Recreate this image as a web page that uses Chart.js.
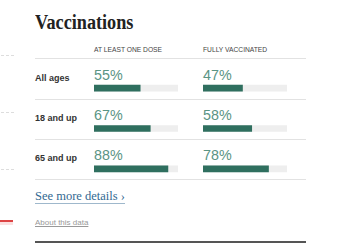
<!DOCTYPE html>
<html><head><meta charset="utf-8">
<script src="https://cdn.jsdelivr.net/npm/chart.js@4"></script>
<style>
html,body{margin:0;padding:0;background:#fff;width:352px;height:250px;overflow:hidden;position:relative}
.a{position:absolute;white-space:nowrap}
#title{left:35px;top:11px;font:bold 20px "Liberation Serif",serif;color:#222;transform:scaleX(0.91);transform-origin:left top}
.hdr{top:46px;font:6.7px "Liberation Sans",Arial,sans-serif;color:#444}
.rule{position:absolute;left:35px;width:271px;height:1px;background:#e2e2e2}
.lab{left:35px;font:bold 9px "Liberation Sans",Arial,sans-serif;color:#333}
.pct{font:14.3px "Liberation Sans",Arial,sans-serif;color:#5a9484}
#more{left:35px;top:190px;font:12.5px "Liberation Serif",serif;color:#326891;border-bottom:1px solid #9fb8cc;line-height:13px}
#about{left:35px;top:218px;font:8px "Liberation Sans",Arial,sans-serif;color:#999;text-decoration:underline}
#bottom{position:absolute;left:35px;top:241px;width:271px;height:2px;background:#555}
.dash{position:absolute;left:1px;width:13px;height:0;border-top:1px dashed #ddd}
#red{position:absolute;left:0;top:220px;width:13px;height:2px;background:#d44}
#redf{position:absolute;left:0;top:222px;width:13px;height:3px;background:#fbe0e0}
canvas{position:absolute}
</style></head><body>
<div id="title" class="a">Vaccinations</div>
<div class="rule" style="top:58px"></div>
<div class="rule" style="top:99px"></div>
<div class="rule" style="top:139px"></div>
<div class="rule" style="top:179px"></div>
<div class="dash" style="top:55px"></div>
<div class="dash" style="top:112px"></div>
<div class="dash" style="top:169px"></div>
<div id="red"></div><div id="redf"></div>
<div id="labels"></div>
<div id="more" class="a">See more details ›</div>
<div id="about" class="a">About this data</div>
<div id="bottom"></div>
<div style="position:absolute;left:94px;top:68px;width:84px;height:121px"><canvas id="c1"></canvas></div>
<div style="position:absolute;left:203px;top:68px;width:84px;height:121px"><canvas id="c2"></canvas></div>
<script>
const categories = ["All ages", "18 and up", "65 and up"];
const atLeastOneDose = [55, 67, 88];
const fullyVaccinated = [47, 58, 78];
const columnTitles = ["AT LEAST ONE DOSE", "FULLY VACCINATED"];
const trackMax = [100, 100, 100];

const rowTops = [72, 112, 152];
const colLefts = [94, 203];
const labelsEl = document.getElementById('labels');
columnTitles.forEach((t, j) => {
  const h = document.createElement('div');
  h.className = 'a hdr'; h.style.left = colLefts[j] + 'px'; h.textContent = t;
  labelsEl.appendChild(h);
});
categories.forEach((c, i) => {
  const l = document.createElement('div');
  l.className = 'a lab'; l.style.top = (rowTops[i] + 1) + 'px'; l.textContent = c;
  labelsEl.appendChild(l);
  [atLeastOneDose, fullyVaccinated].forEach((arr, j) => {
    const p = document.createElement('div');
    p.className = 'a pct'; p.style.top = (rowTops[i] - 5) + 'px'; p.style.left = colLefts[j] + 'px';
    p.textContent = arr[i] + '%';
    labelsEl.appendChild(p);
  });
});

function makeChart(id, values) {
  new Chart(document.getElementById(id), {
    type: 'bar',
    data: {
      labels: categories,
      datasets: [
        { data: values, backgroundColor: '#2f6f5f', grouped: false, barThickness: 6, borderWidth: 0 },
        { data: trackMax, backgroundColor: '#eeeeee', grouped: false, barThickness: 6, borderWidth: 0 }
      ]
    },
    options: {
      indexAxis: 'y',
      responsive: true, maintainAspectRatio: false, animation: false,
      layout: { padding: 0 },
      plugins: { legend: { display: false }, tooltip: { enabled: false } },
      scales: {
        x: { display: false, min: 0, max: 100 },
        y: { display: false, offset: true }
      }
    }
  });
}
makeChart('c1', atLeastOneDose);
makeChart('c2', fullyVaccinated);
</script>
</body></html>
